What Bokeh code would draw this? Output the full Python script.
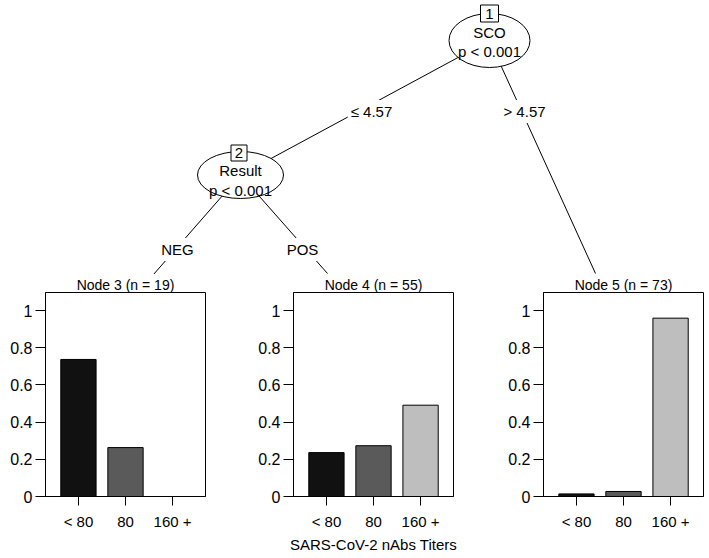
from bokeh.plotting import figure
from bokeh.layouts import column, row
from bokeh.models import Range1d, FactorRange, FixedTicker, NumeralTickFormatter
from bokeh.core.properties import value
from bokeh.embed import file_html
from bokeh.resources import INLINE

# ---------------- data ----------------
categories = ["< 80", "80", "160 +"]
node3_props = [0.737, 0.263, 0.0]
node4_props = [0.236, 0.273, 0.491]
node5_props = [0.014, 0.027, 0.959]
terminal_ids = [3, 4, 5]
terminal_n = [19, 55, 73]
inner_ids = ["1", "2"]
inner_vars = ["SCO", "Result"]
inner_pvals = ["p < 0.001", "p < 0.001"]
edge_labels = ["\u2264 4.57", "> 4.57", "NEG", "POS"]
y_ticks = [0, 0.2, 0.4, 0.6, 0.8, 1]
x_title = "SARS-CoV-2 nAbs Titers"
bar_colors = ["#111111", "#5a5a5a", "#bebebe"]

# ---------------- layout (pixel space) ----------------
W, H = 709, 558
TOP_H = 274

FONT = "Liberation Sans"

inner_x = [489, 240]
inner_y = [40, 174.5]
ell_w = [81, 86]
ell_h = [54, 47]
box_x = [489, 238.5]
box_y = [13, 152.5]
box_w = [18, 16]
box_h = [17, 16]
var_y = [32, 170]
p_y = [51, 190]

edge_x0 = [489, 489, 240, 240]
edge_y0 = [40, 40, 174.5, 174.5]
edge_x1 = [240, 595, 153, 327]
edge_y1 = [174.5, 273, 274, 273]
elab_x = [371, 524, 177, 302]
elab_y = [111, 111, 249, 249]

# ---------------- tree figure ----------------
top = figure(width=W, height=TOP_H, x_range=Range1d(0, W), y_range=Range1d(TOP_H, 0),
             x_axis_location=None, y_axis_location=None, output_backend="svg",
             toolbar_location=None, min_border=0)
top.outline_line_color = None
top.grid.visible = False
top.background_fill_color = "white"
top.border_fill_color = "white"

top.segment(x0=edge_x0, y0=edge_y0, x1=edge_x1, y1=edge_y1, line_color="black", line_width=1)
top.ellipse(x=inner_x, y=inner_y, width=ell_w, height=ell_h, fill_color="white",
            line_color="black", line_width=1)
top.rect(x=box_x, y=box_y, width=box_w, height=box_h, fill_color="white",
         line_color="black", line_width=1)
top.text(x=box_x, y=box_y, text=inner_ids, text_align="center", text_baseline="middle",
         text_font=value(FONT), text_font_size="15px", text_color="black")
top.text(x=inner_x, y=var_y, text=inner_vars, text_align="center", text_baseline="middle",
         text_font=value(FONT), text_font_size="15px", text_color="black")
top.text(x=inner_x, y=p_y, text=inner_pvals, text_align="center", text_baseline="middle",
         text_font=value(FONT), text_font_size="15px", text_color="black")
top.text(x=elab_x, y=elab_y, text=edge_labels, text_align="center", text_baseline="middle",
         text_font=value(FONT), text_font_size="15px", text_color="black",
         background_fill_color="white", padding=3)


# ---------------- bar panels ----------------
def bar_panel(props, title, left, right, xlabel=None):
    p = figure(x_range=FactorRange(factors=categories, range_padding=0.2,
                                   range_padding_units="absolute"),
               y_range=Range1d(0, 1.097), frame_width=160, frame_height=204,
               min_border_left=left, min_border_right=right, min_border_top=18,
               min_border_bottom=62, output_backend="svg", toolbar_location=None)
    p.vbar(x=categories, top=props, width=0.75, fill_color=bar_colors,
           line_color="black", line_width=1)
    p.title.text = title
    p.title.align = "center"
    p.title.text_font = FONT
    p.title.text_font_size = "14px"
    p.title.text_font_style = "normal"
    p.title.text_color = "black"
    p.title.standoff = 0
    p.title.offset = 0
    p.grid.visible = False
    p.outline_line_color = "black"
    p.outline_line_width = 1
    p.outline_line_alpha = 1
    p.background_fill_color = "white"
    p.border_fill_color = "white"
    for ax in (p.xaxis[0], p.yaxis[0]):
        ax.axis_line_color = "black"
        ax.major_tick_line_color = "black"
        ax.major_tick_in = 0
        ax.minor_tick_out = 0
        ax.minor_tick_in = 0
        ax.major_label_text_font = FONT
        ax.major_label_text_color = "black"
    p.xaxis.major_label_text_font_size = "15px"
    p.yaxis.major_label_text_font_size = "16px"
    p.xaxis.major_tick_out = 9
    p.xaxis.major_label_standoff = 7
    p.yaxis.major_tick_out = 10
    p.yaxis.major_label_standoff = 3
    p.yaxis.ticker = FixedTicker(ticks=y_ticks)
    p.yaxis.formatter = NumeralTickFormatter(format="0.[0]")
    if xlabel:
        p.xaxis.axis_label = xlabel
        p.xaxis.axis_label_text_font = FONT
        p.xaxis.axis_label_text_font_size = "15px"
        p.xaxis.axis_label_text_font_style = "normal"
        p.xaxis.axis_label_text_color = "black"
        p.xaxis.axis_label_standoff = 3
    return p


titles = [f"Node {i} (n = {n})" for i, n in zip(terminal_ids, terminal_n)]
f3 = bar_panel(node3_props, titles[0], 45, 10)
f4 = bar_panel(node4_props, titles[1], 78, 10, x_title)
f5 = bar_panel(node5_props, titles[2], 80, 6)

layout = column(top, row(f3, f4, f5, spacing=0), spacing=0)

open("out.html", "w").write(file_html(layout, INLINE, title="ctree"))
